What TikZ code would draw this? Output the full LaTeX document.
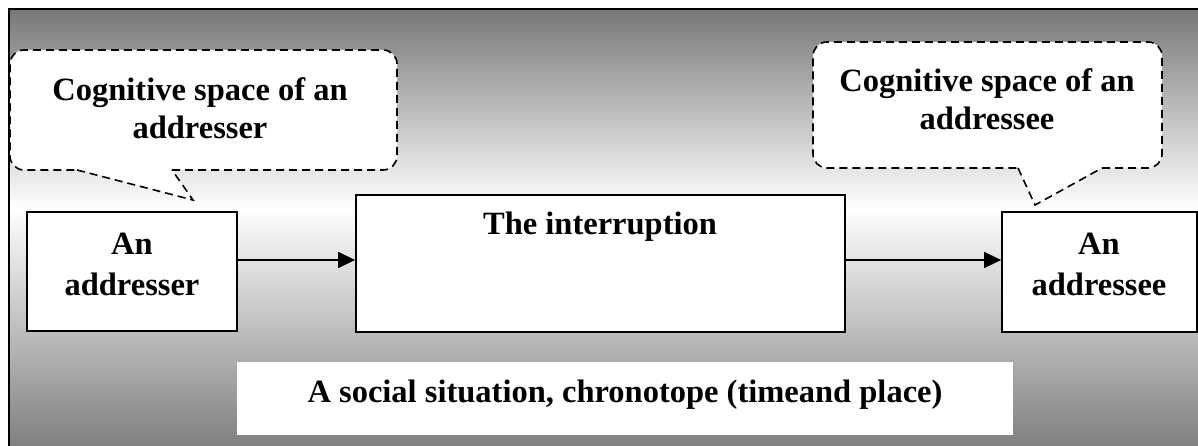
\documentclass[tikz,border=0pt]{standalone}
\usepackage{fontspec}
\setmainfont{Liberation Serif}
\usetikzlibrary{arrows.meta}
\begin{document}
\begin{tikzpicture}[x=1pt,y=-1pt,
  box/.style={draw=black, line width=1.8pt, fill=white, inner sep=0pt},
  lbl/.style={font=\fontsize{32.5}{38}\selectfont\bfseries, align=center, inner sep=0pt},
  boxlbl/.style={lbl, font=\fontsize{32.5}{41}\selectfont\bfseries},
  bubble/.style={draw=black, line width=1.6pt, dash pattern=on 8pt off 5pt},
  arr/.style={line width=1.4pt, -{Triangle[length=17pt,width=16pt]}}]
\useasboundingbox (0,0) rectangle (1198,446);
% background gradient
\shade[top color=black!53, bottom color=white] (9,9) rectangle (1198,208);
\shade[top color=white, bottom color=black!50] (9,207.5) rectangle (1198,446);
\draw[line width=2.4pt] (9,446) -- (9,9) -- (1198,9);
% left callout
\fill[white, rounded corners=14pt] (10,50) rectangle (397,170);
\fill[white] (77,169) -- (193,200) -- (172,169) -- cycle;
\draw[bubble, rounded corners=14pt] (172,170) -- (397,170) -- (397,50) -- (10,50) -- (10,170) -- (77,170);
\draw[bubble] (77,170) -- (193,200) -- (172,170);
\node[lbl] (cs1) at (200,108) {Cognitive space of an\\addresser};
% right callout
\fill[white, rounded corners=14pt] (813,42) rectangle (1162,168);
\fill[white] (1018,167) -- (1035,205) -- (1102,167) -- cycle;
\draw[bubble, rounded corners=14pt] (1102,168) -- (1162,168) -- (1162,42) -- (813,42) -- (813,168) -- (1018,168);
\draw[bubble] (1018,168) -- (1035,205) -- (1102,168);
\node[lbl] (cs2) at (987,99) {Cognitive space of an\\addressee};
% boxes
\node[box, minimum width=210pt, minimum height=119pt] (ar) at (132,271.5) {};
\node[boxlbl] (art) at (132,264) {An\\addresser};
\node[box, minimum width=489pt, minimum height=137pt] (int) at (600.5,263.5) {};
\node[lbl] (intt) at (600,227) {The interruption};
\node[box, minimum width=195pt, minimum height=120pt] (ae) at (1099.5,272) {};
\node[boxlbl] (aet) at (1099,264) {An\\addressee};
\node[fill=white, minimum width=776pt, minimum height=73pt, inner sep=0pt] (soc) at (625,398.5) {};
\node[lbl] (soct) at (625,395) {A social situation, chronotope (timeand place)};
% arrows
\draw[arr] (ar.east |- 0,260) -- (int.west |- 0,260);
\draw[arr] (int.east |- 0,260) -- (ae.west |- 0,260);
\end{tikzpicture}
\end{document}
